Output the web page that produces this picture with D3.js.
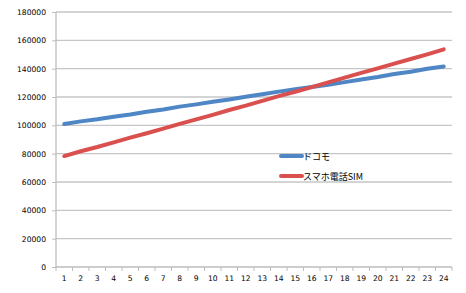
<!DOCTYPE html>
<html><head><meta charset="utf-8">
<script src="https://cdn.jsdelivr.net/npm/d3@7"></script>
<style>body{margin:0;background:#fff;} svg{display:block;}</style>
</head><body><svg id="c" width="466" height="293"></svg>
<script>
const categories = d3.range(1, 25).map(String);
const docomo = [100900,102800,104300,106100,107700,109600,111200,113200,114800,116600,118300,120200,121900,123800,125400,127100,128700,130500,132400,134100,136200,137800,140000,141600];
const sumaho = [78300,81700,84700,88000,91300,94400,97700,101000,104200,107400,110800,113900,117300,120600,123700,127000,130300,133700,137000,140200,143600,146800,150100,153600];
const yTicks = [0,20000,40000,60000,80000,100000,120000,140000,160000,180000];
const seriesNames = ["ドコモ","スマホ電話SIM"];
const colors = ["#4f86c6","#d9504f"];

const svg = d3.select("#c");
const pL = 56, pR = 452, pT = 12, pB = 267;
const x = d3.scaleBand().domain(categories).range([pL, pR]);
const y = d3.scaleLinear().domain([0, 180000]).range([pB, pT]);
const font = "'DejaVu Sans', Verdana, sans-serif";

// gridlines
svg.append("g").selectAll("line").data(yTicks.filter(d => d > 0)).join("line")
  .attr("x1", pL).attr("x2", pR)
  .attr("y1", d => y(d)).attr("y2", d => y(d))
  .attr("stroke", "#c6c6c6").attr("stroke-width", 1.3);

// y axis
const ya = svg.append("g").attr("transform", `translate(${pL},0)`)
  .call(d3.axisLeft(y).tickValues(yTicks).tickSize(4).tickPadding(6).tickFormat(d3.format("d")));
ya.select(".domain").attr("stroke", "#bdbdbd").attr("stroke-width", 1.3).attr("d", `M0,${pT}V${pB}`);
ya.selectAll(".tick line").attr("stroke", "#bdbdbd");
ya.selectAll("text").attr("font-family", font).attr("font-size", "7.6px").attr("fill", "#000");

// x axis
const xa = svg.append("g").attr("transform", `translate(0,${pB})`)
  .call(d3.axisBottom(x).tickSize(0).tickPadding(9));
xa.select(".domain").attr("stroke", "#bdbdbd").attr("stroke-width", 1.3).attr("d", `M${pL},0H${pR}`);
xa.selectAll("text").attr("font-family", font).attr("font-size", "7.6px").attr("fill", "#000");
// boundary ticks
svg.append("g").selectAll("line").data(categories.concat(["end"])).join("line")
  .attr("x1", (d,i) => pL + i * x.step()).attr("x2", (d,i) => pL + i * x.step())
  .attr("y1", pB).attr("y2", pB + 4)
  .attr("stroke", "#bdbdbd").attr("stroke-width", 1);

const line = d3.line().x((d,i) => x(categories[i]) + x.bandwidth()/2).y(d => y(d));
[docomo, sumaho].forEach((s, k) => {
  svg.append("path").datum(s).attr("d", line).attr("fill", "none")
    .attr("stroke", colors[k]).attr("stroke-width", 4).attr("stroke-linecap", "round").attr("stroke-linejoin", "round");
});

// legend
const lg = svg.append("g");
seriesNames.forEach((n, k) => {
  const ly = 156 + k * 20;
  lg.append("line").attr("x1", 281).attr("x2", 302).attr("y1", ly).attr("y2", ly)
    .attr("stroke", colors[k]).attr("stroke-width", 4).attr("stroke-linecap", "round");
  lg.append("text").attr("x", 303).attr("y", ly + 3.5).text(n)
    .attr("font-family", "'Noto Sans CJK JP', sans-serif").attr("font-size", "9px").attr("fill", "#000");
});
</script></body></html>
